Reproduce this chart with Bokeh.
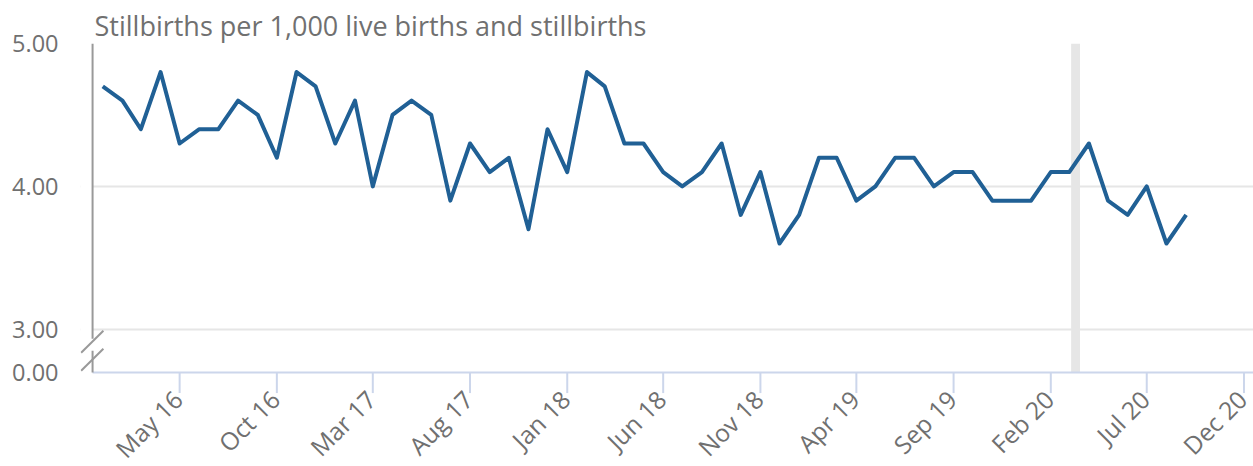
import math
import pandas as pd
from bokeh.plotting import figure
from bokeh.models import (Range1d, FixedTicker, CustomJSTickFormatter,
                          BoxAnnotation, Arrow, ColumnDataSource, LabelSet)
from bokeh.core.properties import value
from bokeh.embed import file_html
from bokeh.resources import INLINE

# ---- data ----
months = pd.date_range("2016-01-01", "2020-09-01", freq="MS")
rates = [4.7, 4.6, 4.4, 4.8, 4.3, 4.4, 4.4, 4.6, 4.5, 4.2, 4.8, 4.7,
         4.3, 4.6, 4.0, 4.5, 4.6, 4.5, 3.9, 4.3, 4.1, 4.2, 3.7, 4.4,
         4.1, 4.8, 4.7, 4.3, 4.3, 4.1, 4.0, 4.1, 4.3, 3.8, 4.1, 3.6,
         3.8, 4.2, 4.2, 3.9, 4.0, 4.2, 4.2, 4.0, 4.1, 4.1, 3.9, 3.9,
         3.9, 4.1, 4.1, 4.3, 3.9, 3.8, 4.0, 3.6, 3.8]
x_tick_dates = ["2016-05-01", "2016-10-01", "2017-03-01", "2017-08-01", "2018-01-01",
                "2018-06-01", "2018-11-01", "2019-04-01", "2019-09-01", "2020-02-01",
                "2020-07-01", "2020-12-01"]
y_ticks = [3.0, 4.0, 5.0]
title_text = "Stillbirths per 1,000 live births and stillbirths"
band_start, band_end = "2020-03-04", "2020-03-18"

def ms(d):
    return pd.Timestamp(d).value / 1e6

FONT = "Open Sans"
GREY = "#707070"
Y0 = 2.697        # level of the broken axis' bottom (shown as 0.00)
Y_BOTTOM = 2.039  # canvas bottom (room for rotated month labels)
TICK_LEN = 0.144  # tick length in value units (~20 px)
day = 86400000.0

src = ColumnDataSource(dict(x=months, y=rates))
tick_x = [pd.Timestamp(d) for d in x_tick_dates]
tick_src = ColumnDataSource(dict(
    x=tick_x,
    y0=[Y0] * len(tick_x),
    y1=[Y0 - TICK_LEN] * len(tick_x),
    label=[t.strftime("%b %y") for t in tick_x]))

x_start, x_end = ms("2015-11-27"), ms("2020-12-16")
x_axis = ms("2015-12-16")          # where the (drawn) vertical axis sits
p = figure(width=1253, height=466, x_axis_type="datetime",
           x_range=Range1d(x_start, x_end), y_range=Range1d(Y_BOTTOM, 5.0),
           output_backend="svg", toolbar_location=None,
           min_border_left=80, min_border_right=0, min_border_bottom=0, min_border_top=43)
p.outline_line_color = None
p.background_fill_color = "white"

p.title.text = title_text
p.title.text_font = FONT
p.title.text_font_size = "27px"
p.title.text_font_style = "normal"
p.title.text_color = GREY
p.title.offset = 14
p.title.standoff = 0

# grid
p.xgrid.visible = False
p.ygrid.ticker = FixedTicker(ticks=y_ticks)
p.ygrid.grid_line_color = "#e6e6e6"
p.ygrid.grid_line_width = 2

# white strip left of the vertical axis (hides grid there)
p.add_layout(BoxAnnotation(left=x_start, right=x_axis, fill_color="white", fill_alpha=1.0,
                           line_color=None, level="glyph"))
# band
p.add_layout(BoxAnnotation(left=ms(band_start), right=ms(band_end), bottom=Y0,
                           fill_color="#e6e6e6", fill_alpha=1.0, line_color=None,
                           level="underlay"))

p.line("x", "y", source=src, line_color="#206095", line_width=4, line_join="round")

# x axis: line, ticks and rotated month labels
p.xaxis.visible = False
p.add_layout(Arrow(end=None, x_start=x_axis, y_start=Y0, x_end=x_end, y_end=Y0,
                   line_color="#ccd6eb", line_width=2, level="overlay"))
p.segment(x0="x", y0="y0", x1="x", y1="y1", source=tick_src,
          line_color="#ccd6eb", line_width=2)
p.add_layout(LabelSet(x="x", y="y0", text="label", source=tick_src,
                      angle=math.pi / 4, x_offset=5, y_offset=-29,
                      text_align="right", text_baseline="alphabetic",
                      text_font=value(FONT), text_font_size=value("24.5px"),
                      text_color=GREY))

# y axis
ya = p.yaxis[0]
ya.ticker = FixedTicker(ticks=[Y0] + y_ticks)
ya.formatter = CustomJSTickFormatter(code="return tick < 2.9 ? '0.00' : tick.toFixed(2);")
ya.major_tick_line_color = None
ya.major_tick_out = 0
ya.major_tick_in = 0
ya.minor_tick_line_color = None
ya.minor_tick_out = 0
ya.axis_line_color = None
ya.major_label_text_font = FONT
ya.major_label_text_font_size = "23.5px"
ya.major_label_text_color = GREY
ya.major_label_standoff = 22

# broken vertical axis line and break marks
AX = "#999999"
for (xa0, ya0, xa1, ya1) in [
        (x_axis, 5.0, x_axis, 2.933),
        (x_axis, 2.849, x_axis, Y0),
        (x_axis - 18 * day, 2.835, x_axis + 17 * day, 2.989),
        (x_axis - 18 * day, 2.709, x_axis + 17 * day, 2.863)]:
    p.add_layout(Arrow(end=None, x_start=xa0, y_start=ya0, x_end=xa1, y_end=ya1,
                       line_color=AX, line_width=2, level="overlay"))

open("out.html", "w").write(file_html(p, INLINE))
